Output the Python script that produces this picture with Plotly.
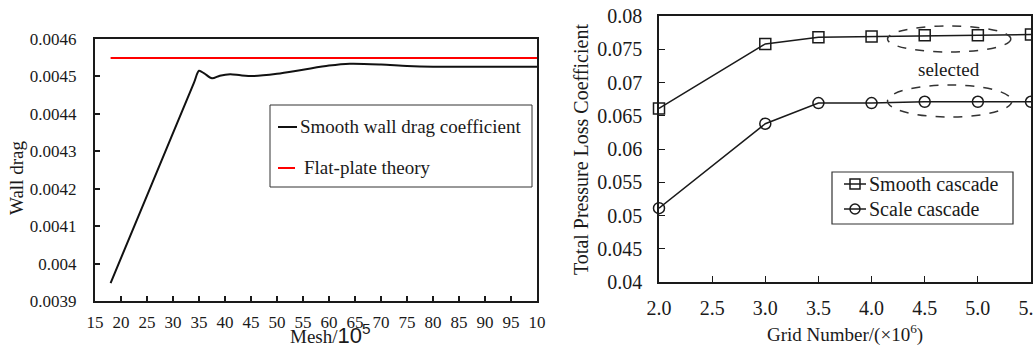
import plotly.graph_objects as go

W, H = 1033, 349

# ---------------- data ----------------
mesh = [18, 26, 34, 35, 36, 37.5, 39, 41, 43, 45.5, 50, 55, 60, 64, 70, 75, 80, 90, 100]
wall_drag = [0.003948, 0.004215, 0.004482, 0.004515, 0.004508, 0.004495, 0.004502,
             0.004506, 0.004503, 0.004501, 0.004507, 0.004518, 0.004529, 0.004534,
             0.004532, 0.004528, 0.004526, 0.004526, 0.004526]
flat_x = [18, 100]
flat_y = [0.004549, 0.004549]

left_xticks = list(range(15, 101, 5))
left_xticktext = [str(v) for v in left_xticks[:-1]] + ["10"]
left_yticks = [0.0039, 0.004, 0.0041, 0.0042, 0.0043, 0.0044, 0.0045, 0.0046]
left_yticktext = ["0.0039", "0.004", "0.0041", "0.0042", "0.0043", "0.0044", "0.0045", "0.0046"]

grid = [2.0, 3.0, 3.5, 4.0, 4.5, 5.0, 5.5]
smooth_cascade = [0.0661, 0.0758, 0.0768, 0.0769, 0.0771, 0.0771, 0.0772]
scale_cascade = [0.0511, 0.0638, 0.0669, 0.0669, 0.0671, 0.0671, 0.0671]

right_xticks = [2.0, 2.5, 3.0, 3.5, 4.0, 4.5, 5.0, 5.5]
right_xticktext = ["2.0", "2.5", "3.0", "3.5", "4.0", "4.5", "5.0", "5.5"]
right_yticks = [0.04, 0.045, 0.05, 0.055, 0.06, 0.065, 0.07, 0.075, 0.08]
right_yticktext = ["0.04", "0.045", "0.05", "0.055", "0.06", "0.065", "0.07", "0.075", "0.08"]

FONT = "Liberation Serif"
INK = "#1a1a1a"


def px(x):
    return x / W


def py(y):
    return 1 - y / H


fig = go.Figure()

fig.add_trace(go.Scatter(x=mesh, y=wall_drag, mode="lines", xaxis="x", yaxis="y",
                         line=dict(color="#111", width=2, shape="spline", smoothing=0.8),
                         showlegend=False))
fig.add_trace(go.Scatter(x=flat_x, y=flat_y, mode="lines", xaxis="x", yaxis="y",
                         line=dict(color="#ff0000", width=2), showlegend=False))

fig.add_trace(go.Scatter(x=grid, y=smooth_cascade, mode="lines+markers", xaxis="x2", yaxis="y2",
                         line=dict(color=INK, width=1.5),
                         marker=dict(symbol="square-open", size=11, color=INK, line=dict(width=1.5)),
                         showlegend=False, cliponaxis=False))
fig.add_trace(go.Scatter(x=grid, y=scale_cascade, mode="lines+markers", xaxis="x2", yaxis="y2",
                         line=dict(color=INK, width=1.5),
                         marker=dict(symbol="circle-open", size=11, color=INK, line=dict(width=1.5)),
                         showlegend=False, cliponaxis=False))

axis_common = dict(showgrid=False, zeroline=False, showline=True, mirror=True,
                   ticks="inside", color=INK, linecolor=INK, ticklabeloverflow="allow",
                   automargin=False)

fig.update_layout(
    width=W, height=H,
    margin=dict(l=0, r=0, t=0, b=0, autoexpand=False),
    paper_bgcolor="white", plot_bgcolor="white",
    font=dict(family=FONT, color=INK),
    xaxis=dict(domain=[px(95), px(537)], range=[15, 100], anchor="y",
               tickvals=left_xticks, ticktext=left_xticktext,
               ticklen=5, tickwidth=1.5, linewidth=2,
               tickfont=dict(size=17, family=FONT, color=INK),
               ticklabelstandoff=5, **axis_common),
    yaxis=dict(domain=[py(301), py(39)], range=[0.0039, 0.0046], anchor="x",
               tickvals=left_yticks, ticktext=left_yticktext,
               ticklen=5, tickwidth=1.5, linewidth=2,
               tickfont=dict(size=17, family=FONT, color=INK),
               ticklabelstandoff=13, **axis_common),
    xaxis2=dict(domain=[px(659), px(1031)], range=[2.0, 5.5], anchor="y2",
                tickvals=right_xticks, ticktext=right_xticktext,
                ticklen=6, tickwidth=1.3, linewidth=1.5,
                tickfont=dict(size=20, family=FONT, color=INK),
                ticklabelstandoff=7, **axis_common),
    yaxis2=dict(domain=[py(282), py(16)], range=[0.04, 0.08], anchor="x2",
                tickvals=right_yticks, ticktext=right_yticktext,
                ticklen=6, tickwidth=1.3, linewidth=1.5,
                tickfont=dict(size=20, family=FONT, color=INK),
                ticklabelstandoff=11, **axis_common),
    showlegend=False,
)

shapes = []
annotations = []


def label(text, x, y, size, angle=0, xanchor="center", yanchor="middle", ref="paper"):
    d = dict(text=text, showarrow=False, textangle=angle, xanchor=xanchor, yanchor=yanchor,
             font=dict(size=size, family=FONT, color=INK))
    if ref == "paper":
        d.update(xref="paper", yref="paper", x=px(x), y=py(y))
    else:
        d.update(xref="x2", yref="y2", x=x, y=y)
    annotations.append(d)


# ---- left legend (manual) ----
shapes.append(dict(type="rect", xref="paper", yref="paper",
                   x0=px(270), x1=px(532), y0=py(187), y1=py(105),
                   line=dict(color="#333", width=1), fillcolor="white", layer="above"))
shapes.append(dict(type="line", xref="paper", yref="paper",
                   x0=px(278), x1=px(297), y0=py(127), y1=py(127),
                   line=dict(color="#111", width=2)))
shapes.append(dict(type="line", xref="paper", yref="paper",
                   x0=px(278), x1=px(295), y0=py(168), y1=py(168),
                   line=dict(color="#ff0000", width=2)))
label("Smooth wall drag coefficient", 298, 127, 19, xanchor="left")
label("Flat-plate theory", 302, 168, 19, xanchor="left")

# ---- right legend (manual) ----
shapes.append(dict(type="rect", xref="paper", yref="paper",
                   x0=px(832), x1=px(1013), y0=py(224), y1=py(172),
                   line=dict(color="#333", width=1.2), fillcolor="white", layer="above"))
for yy in (184, 209):
    shapes.append(dict(type="line", xref="paper", yref="paper",
                       x0=px(844), x1=px(866), y0=py(yy), y1=py(yy),
                       line=dict(color=INK, width=1.5)))
shapes.append(dict(type="rect", xref="paper", yref="paper",
                   x0=px(850), x1=px(860), y0=py(189), y1=py(179),
                   line=dict(color=INK, width=1.5)))
shapes.append(dict(type="circle", xref="paper", yref="paper",
                   x0=px(850), x1=px(860), y0=py(214), y1=py(204),
                   line=dict(color=INK, width=1.5)))
label("Smooth cascade", 867, 184, 20, xanchor="left")
label("Scale cascade", 867, 209, 20, xanchor="left")

# ---- dashed ellipses and label ----
shapes.append(dict(type="circle", xref="x2", yref="y2", x0=4.15, x1=5.31, y0=0.07459, y1=0.0785,
                   line=dict(color="#333", width=1.5, dash="dash")))
shapes.append(dict(type="circle", xref="x2", yref="y2", x0=4.15, x1=5.32, y0=0.06481, y1=0.06962,
                   line=dict(color="#333", width=1.5, dash="dash")))
label("selected", 4.73, 0.0719, 19, ref="data")

# ---- axis titles ----
label("Wall drag", 16, 178, 19, angle=-90)
label("Mesh/<span style='font-family:Liberation Sans;font-size:22px'>10<sup>5</sup></span>",
      330, 350, 19, yanchor="bottom")
label("Total Pressure Loss Coefficient", 581, 150, 20, angle=-90)
label("Grid Number/(×10<sup>6</sup>)", 845, 348, 19, yanchor="bottom")

fig.update_layout(shapes=shapes, annotations=annotations)

fig.write_html("out.html")
